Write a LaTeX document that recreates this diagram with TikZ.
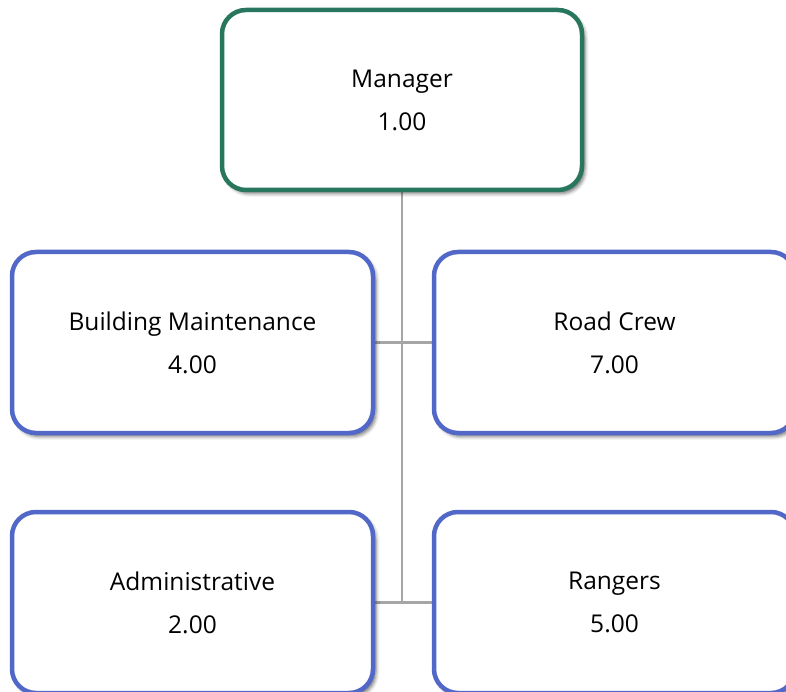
\documentclass[tikz,border=0pt]{standalone}
\usepackage{fontspec}
\setmainfont{Open Sans}
\usepackage{tikz}
\usetikzlibrary{positioning,backgrounds,shadows.blur}
\definecolor{mgrgreen}{RGB}{40,118,94}
\definecolor{unitblue}{RGB}{82,104,200}
\definecolor{linkgray}{RGB}{166,166,166}

\begin{document}
\begin{tikzpicture}[
    x=1pt, y=-1pt,
    unit/.style={draw=unitblue, line width=4.5pt, fill=white, rounded corners=24pt,
        minimum width=361pt, minimum height=181pt, align=center,
        font=\fontsize{24.5}{43}\selectfont,
        blur shadow={shadow xshift=3pt, shadow yshift=-3.5pt, shadow blur radius=3.5pt, shadow opacity=55}},
    link/.style={draw=linkgray, line width=2.5pt}
]
\useasboundingbox (0,0) rectangle (786,692);

\node[unit, draw=mgrgreen, minimum width=360pt, minimum height=180pt] (mgr) at (402,100) {Manager\\1.00};

\foreach \name/\px/\py/\title/\fte in {
    bldg/192.5/342.5/Building Maintenance/4.00,
    road/614.5/342.5/Road Crew/7.00,
    admin/192.5/602.5/Administrative/2.00,
    rangers/614.5/602.5/Rangers/5.00} {
    \node[unit] (\name) at (\px,\py) {\title\\\fte};
}

% links behind the boxes
\begin{scope}[on background layer]
\draw[link] (mgr.south) -- (mgr.south |- admin.east);
\draw[link] (bldg.east) -- (road.west);
\draw[link] (admin.east) -- (rangers.west);
\end{scope}

\end{tikzpicture}
\end{document}
